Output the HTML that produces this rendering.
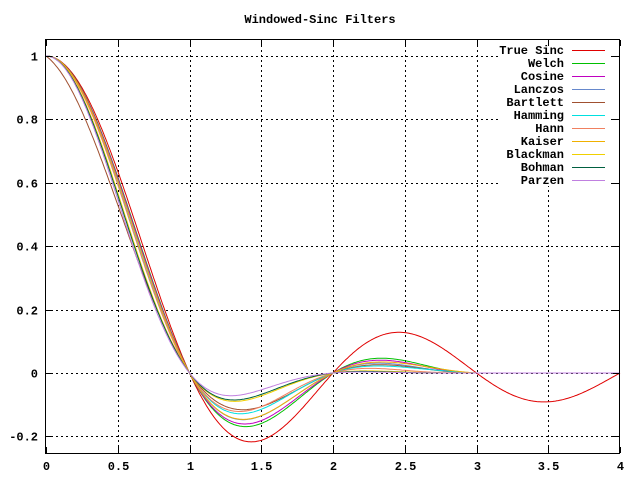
<!DOCTYPE html>
<html><head><meta charset="utf-8"><style>
body{margin:0;background:#fff}
svg text{font-family:"Liberation Mono",monospace;font-size:12px;font-weight:bold;fill:#000}
</style></head><body>
<svg id="s" width="640" height="480" xmlns="http://www.w3.org/2000/svg">
<rect width="640" height="480" fill="#fff"/>
<text x="320" y="23" text-anchor="middle">Windowed-Sinc Filters</text>
<g id="grid" stroke="#000" stroke-width="1" stroke-dasharray="2,3"></g>
<rect x="500" y="43" width="111" height="143" fill="#fff"/>
<g id="curves" fill="none" stroke-width="1"></g>
<rect x="45.5" y="39.5" width="574" height="414" fill="none" stroke="#000"/>
<g id="ticks" stroke="#000"></g>
<g id="labels"></g>
<g id="legend"></g>
</svg>
<script>
const NS="http://www.w3.org/2000/svg";
const X=x=>46+x*143.5, Y=y=>373-y*317;
function el(p,t,a,txt){const e=document.createElementNS(NS,t);for(const k in a)e.setAttribute(k,a[k]);if(txt!=null)e.textContent=txt;document.getElementById(p).appendChild(e);return e;}
const yt=[-0.2,0,0.2,0.4,0.6,0.8,1], xt=[0,0.5,1,1.5,2,2.5,3,3.5,4];
const yl=["-0.2","0","0.2","0.4","0.6","0.8","1"], xl=["0","0.5","1","1.5","2","2.5","3","3.5","4"];
yt.forEach((v,i)=>{const y=Math.round(Y(v))+0.5;el("grid","line",{x1:46,x2:619,y1:y,y2:y});
 el("ticks","line",{x1:46,x2:52,y1:y,y2:y});el("ticks","line",{x1:613,x2:619,y1:y,y2:y});
 el("labels","text",{x:38,y:y+4,"text-anchor":"end"},yl[i]);});
xt.forEach((v,i)=>{const x=Math.round(X(v))+0.5;if(i>0&&i<8)el("grid","line",{x1:x,x2:x,y1:40,y2:453});
 el("ticks","line",{x1:x,x2:x,y1:453,y2:447});el("ticks","line",{x1:x,x2:x,y1:40,y2:46});
 el("labels","text",{x:x,y:470,"text-anchor":"middle"},xl[i]);});
const sinc=x=>x==0?1:Math.sin(Math.PI*x)/(Math.PI*x);
function I0(x){let s=1,t=1;for(let k=1;k<30;k++){t*=(x/2/k)*(x/2/k);s+=t;}return s;}
const P=Math.PI;
const wins=[
["True Sinc","#e00000",t=>1,4],
["Welch","#00c000",t=>1-t*t,3],
["Cosine","#c000c0",t=>Math.cos(P*t/2),3],
["Lanczos","#6688cc",t=>sinc(t),3],
["Bartlett","#a05030",t=>1-t,3],
["Hamming","#00e0e0",t=>0.54+0.46*Math.cos(P*t),3],
["Hann","#f08060",t=>0.5+0.5*Math.cos(P*t),3],
["Kaiser","#f0b000",t=>I0(4*Math.sqrt(Math.max(0,1-t*t)))/I0(4),3],
["Blackman","#f0d000",t=>0.42+0.5*Math.cos(P*t)+0.08*Math.cos(2*P*t),3],
["Bohman","#006040",t=>(1-t)*Math.cos(P*t)+Math.sin(P*t)/P,3],
["Parzen","#c080e0",t=>t<=0.5?1-6*t*t+6*t*t*t:2*Math.pow(1-t,3),3]];
wins.forEach((w,i)=>{let d="";for(let k=0;k<=400;k++){const x=4*k/400;let y;
 if(w[3]==4)y=sinc(x);else y=x<=3?sinc(x)*w[2](x/3):0;
 d+=(k?"L":"M")+X(x).toFixed(1)+" "+Y(y).toFixed(1);}
 el("curves","path",{d:d,stroke:w[1]});
 const yy=50+i*13;el("legend","text",{x:564,y:yy+4,"text-anchor":"end"},w[0]);
 el("legend","line",{x1:572,x2:605,y1:yy+0.5,y2:yy+0.5,stroke:w[1]});});
</script>
</body></html>
